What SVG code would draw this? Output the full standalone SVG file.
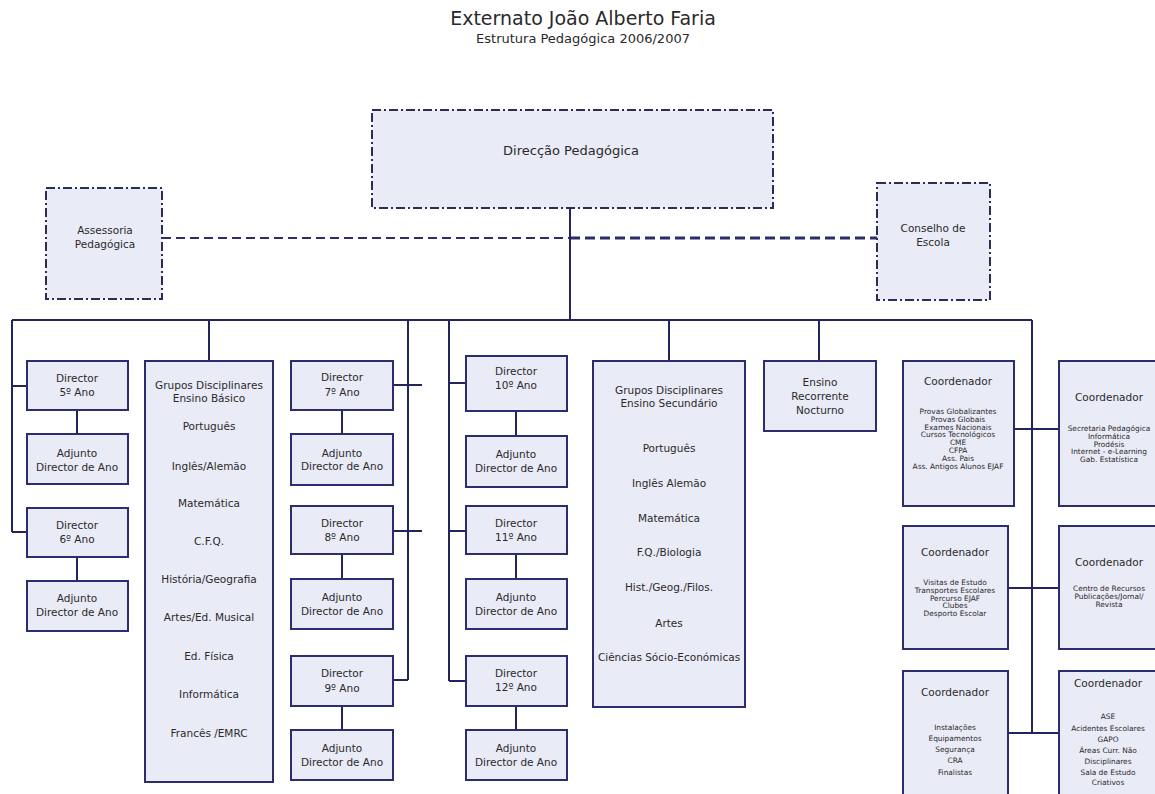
<svg xmlns="http://www.w3.org/2000/svg" width="1155" height="794" viewBox="0 0 1155 794">
<style>
text{font-family:"DejaVu Sans","Liberation Sans",sans-serif;fill:#2a2a2a;text-anchor:middle}
.t1{font-size:19px}
.t2{font-size:13px}
.n{font-size:10.5px}
.s{font-size:7.4px}
.box{fill:#e9ebf6;stroke:#2c2c6e;stroke-width:2}
.dd{fill:#e9ebf6;stroke:#2c2c54;stroke-width:2;stroke-dasharray:9 3 2 3}
.ln{stroke:#23235e;stroke-width:2;fill:none}
.dl{stroke:#2c2c6e;stroke-width:2;stroke-dasharray:9 5;fill:none}
.dl2{stroke:#2c2c6e;stroke-width:2.8;stroke-dasharray:10 5;fill:none}
</style>
<rect width="1155" height="794" fill="#ffffff"/>
<g id="title">
<text class="t1" x="583" y="25">Externato João Alberto Faria</text>
<text class="t2" x="583" y="43">Estrutura Pedagógica 2006/2007</text>
</g>
<g id="connectors">
<path class="dl" d="M162 238H570"/>
<path class="dl2" d="M570 238H877"/>
<path class="ln" d="M570 208V320M12 320H1032"/>
<path class="ln" d="M12 320V532M12 386H27M12 532H27M77 410V434M77 557V581"/>
<path class="ln" d="M209 320V361"/>
<path class="ln" d="M408 320V680M393 385H422M393 531H422M393 680H408M342 410V434M342 554V579M342 706V730"/>
<path class="ln" d="M449 320V681M449 383H466M449 531H466M449 681H466M516 411V436M516 554V579M516 706V730"/>
<path class="ln" d="M669 320V361M819 320V361"/>
<path class="ln" d="M1032 320V733M1014 429H1059M1008 588H1059M1008 733H1059"/>
</g>
<g id="direccao"><rect class="dd" x="372" y="110" width="401" height="98"/><text class="t2" x="571" y="155">Direcção Pedagógica</text></g>
<g id="assessoria"><rect class="dd" x="46" y="188" width="116" height="111"/><text class="n" x="105" y="234">Assessoria</text><text class="n" x="105" y="248">Pedagógica</text></g>
<g id="conselho"><rect class="dd" x="877" y="183" width="113" height="117"/><text class="n" x="933" y="232">Conselho de</text><text class="n" x="933" y="246">Escola</text></g>

<g id="dir5"><rect class="box" x="27" y="361" width="101" height="49"/><text class="n" x="77" y="382">Director</text><text class="n" x="77" y="396">5º Ano</text></g>
<g id="adj5"><rect class="box" x="27" y="434" width="101" height="50"/><text class="n" x="77" y="457">Adjunto</text><text class="n" x="77" y="471">Director de Ano</text></g>
<g id="dir6"><rect class="box" x="27" y="508" width="101" height="49"/><text class="n" x="77" y="529">Director</text><text class="n" x="77" y="543">6º Ano</text></g>
<g id="adj6"><rect class="box" x="27" y="581" width="101" height="50"/><text class="n" x="77" y="602">Adjunto</text><text class="n" x="77" y="616">Director de Ano</text></g>

<g id="grupos-basico"><rect class="box" x="145" y="361" width="128" height="421"/>
<text class="n" x="209" y="389">Grupos Disciplinares</text><text class="n" x="209" y="402">Ensino Básico</text>
<text class="n" x="209" y="430">Português</text>
<text class="n" x="209" y="470">Inglês/Alemão</text>
<text class="n" x="209" y="507">Matemática</text>
<text class="n" x="209" y="545">C.F.Q.</text>
<text class="n" x="209" y="583">História/Geografia</text>
<text class="n" x="209" y="621">Artes/Ed. Musical</text>
<text class="n" x="209" y="660">Ed. Física</text>
<text class="n" x="209" y="698">Informática</text>
<text class="n" x="209" y="737">Francês /EMRC</text>
</g>

<g id="dir7"><rect class="box" x="291" y="361" width="102" height="49"/><text class="n" x="342" y="381">Director</text><text class="n" x="342" y="396">7º Ano</text></g>
<g id="adj7"><rect class="box" x="291" y="434" width="102" height="51"/><text class="n" x="342" y="457">Adjunto</text><text class="n" x="342" y="470">Director de Ano</text></g>
<g id="dir8"><rect class="box" x="291" y="506" width="102" height="48"/><text class="n" x="342" y="527">Director</text><text class="n" x="342" y="541">8º Ano</text></g>
<g id="adj8"><rect class="box" x="291" y="579" width="102" height="50"/><text class="n" x="342" y="601">Adjunto</text><text class="n" x="342" y="615">Director de Ano</text></g>
<g id="dir9"><rect class="box" x="291" y="656" width="102" height="50"/><text class="n" x="342" y="677">Director</text><text class="n" x="342" y="692">9º Ano</text></g>
<g id="adj9"><rect class="box" x="291" y="730" width="102" height="50"/><text class="n" x="342" y="752">Adjunto</text><text class="n" x="342" y="766">Director de Ano</text></g>

<g id="dir10"><rect class="box" x="466" y="356" width="101" height="55"/><text class="n" x="516" y="375">Director</text><text class="n" x="516" y="389">10º Ano</text></g>
<g id="adj10"><rect class="box" x="466" y="436" width="101" height="51"/><text class="n" x="516" y="458">Adjunto</text><text class="n" x="516" y="472">Director de Ano</text></g>
<g id="dir11"><rect class="box" x="466" y="506" width="101" height="48"/><text class="n" x="516" y="527">Director</text><text class="n" x="516" y="541">11º Ano</text></g>
<g id="adj11"><rect class="box" x="466" y="579" width="101" height="50"/><text class="n" x="516" y="601">Adjunto</text><text class="n" x="516" y="615">Director de Ano</text></g>
<g id="dir12"><rect class="box" x="466" y="656" width="101" height="50"/><text class="n" x="516" y="677">Director</text><text class="n" x="516" y="691">12º Ano</text></g>
<g id="adj12"><rect class="box" x="466" y="730" width="101" height="50"/><text class="n" x="516" y="752">Adjunto</text><text class="n" x="516" y="766">Director de Ano</text></g>

<g id="grupos-secundario"><rect class="box" x="593" y="361" width="152" height="346"/>
<text class="n" x="669" y="394">Grupos Disciplinares</text><text class="n" x="669" y="407">Ensino Secundário</text>
<text class="n" x="669" y="452">Português</text>
<text class="n" x="669" y="487">Inglês Alemão</text>
<text class="n" x="669" y="522">Matemática</text>
<text class="n" x="669" y="556">F.Q./Biologia</text>
<text class="n" x="669" y="591">Hist./Geog./Filos.</text>
<text class="n" x="669" y="627">Artes</text>
<text class="n" x="669" y="661">Ciências Sócio-Económicas</text>
</g>

<g id="ensino-recorrente"><rect class="box" x="764" y="361" width="112" height="70"/><text class="n" x="820" y="386">Ensino</text><text class="n" x="820" y="400">Recorrente</text><text class="n" x="820" y="414">Nocturno</text></g>

<g id="coord1"><rect class="box" x="903" y="361" width="111" height="145"/>
<text class="n" x="958" y="385">Coordenador</text>
<text class="s" x="958" y="414">Provas Globalizantes</text>
<text class="s" x="958" y="421.8">Provas Globais</text>
<text class="s" x="958" y="429.6">Exames Nacionais</text>
<text class="s" x="958" y="437.4">Cursos Tecnológicos</text>
<text class="s" x="958" y="445.2">CME</text>
<text class="s" x="958" y="453">CFPA</text>
<text class="s" x="958" y="460.8">Ass. Pais</text>
<text class="s" x="958" y="468.6">Ass. Antigos Alunos EJAF</text>
</g>
<g id="coord2"><rect class="box" x="1059" y="361" width="98" height="145"/>
<text class="n" x="1109" y="401">Coordenador</text>
<text class="s" x="1109" y="431">Secretaria Pedagógica</text>
<text class="s" x="1109" y="438.8">Informática</text>
<text class="s" x="1109" y="446.6">Prodésis</text>
<text class="s" x="1109" y="454.4">Internet - e-Learning</text>
<text class="s" x="1109" y="462.2">Gab. Estatística</text>
</g>
<g id="coord3"><rect class="box" x="903" y="526" width="105" height="123"/>
<text class="n" x="955" y="556">Coordenador</text>
<text class="s" x="955" y="585">Visitas de Estudo</text>
<text class="s" x="955" y="592.8">Transportes Escolares</text>
<text class="s" x="955" y="600.6">Percurso EJAF</text>
<text class="s" x="955" y="608.4">Clubes</text>
<text class="s" x="955" y="616.2">Desporto Escolar</text>
</g>
<g id="coord4"><rect class="box" x="1059" y="526" width="98" height="123"/>
<text class="n" x="1109" y="566">Coordenador</text>
<text class="s" x="1109" y="591">Centro de Recursos</text>
<text class="s" x="1109" y="598.8">Publicações/Jornal/</text>
<text class="s" x="1109" y="606.6">Revista</text>
</g>
<g id="coord5"><rect class="box" x="903" y="671" width="105" height="130"/>
<text class="n" x="955" y="696">Coordenador</text>
<text class="s" x="955" y="730">Instalações</text>
<text class="s" x="955" y="741">Equipamentos</text>
<text class="s" x="955" y="752">Segurança</text>
<text class="s" x="955" y="763">CRA</text>
<text class="s" x="955" y="775">Finalistas</text>
</g>
<g id="coord6"><rect class="box" x="1059" y="671" width="98" height="130"/>
<text class="n" x="1108" y="687">Coordenador</text>
<text class="s" x="1108" y="719">ASE</text>
<text class="s" x="1108" y="731">Acidentes Escolares</text>
<text class="s" x="1108" y="742">GAPO</text>
<text class="s" x="1108" y="753">Áreas Curr. Não</text>
<text class="s" x="1108" y="764">Disciplinares</text>
<text class="s" x="1108" y="775">Sala de Estudo</text>
<text class="s" x="1108" y="785">Criativos</text>
</g>
</svg>
